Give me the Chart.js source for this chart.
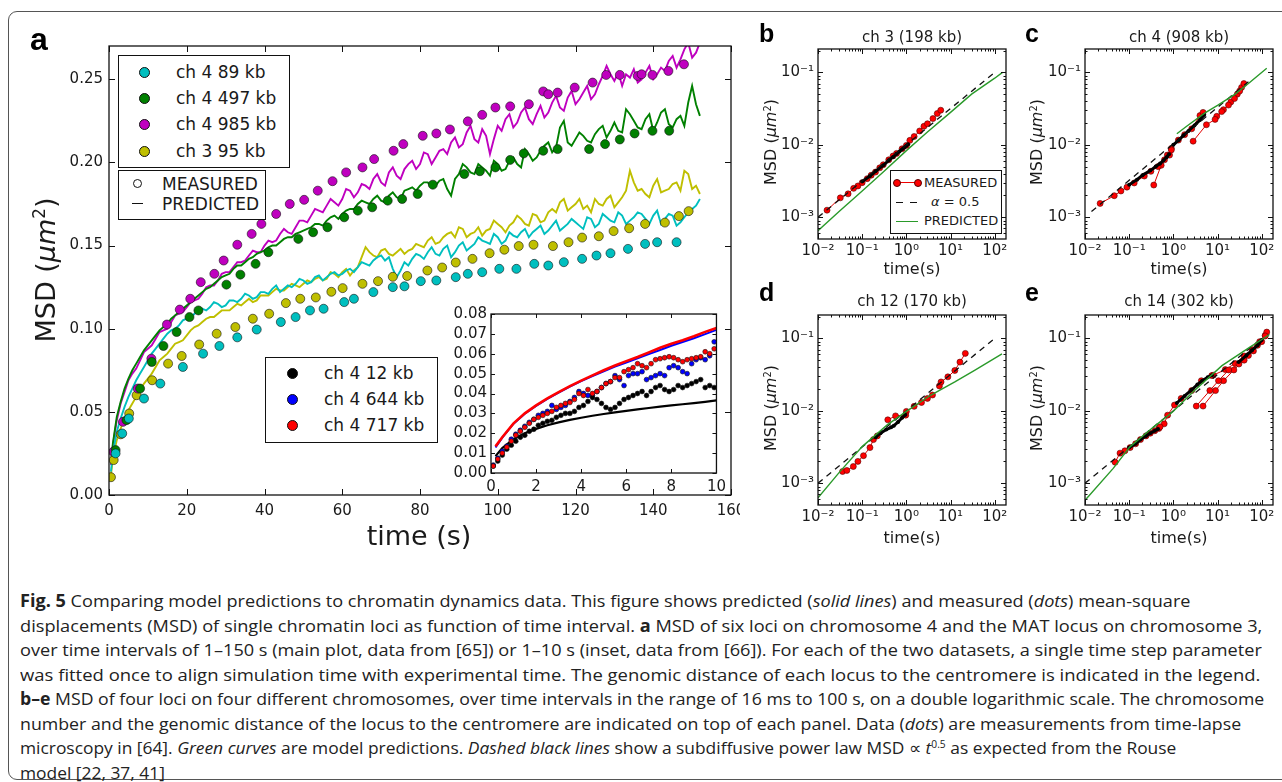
<!DOCTYPE html>
<html>
<head>
<meta charset="utf-8">
<script src="https://cdn.jsdelivr.net/npm/chart.js@4.4.0/dist/chart.umd.min.js"></script>
<style>
  body { margin: 0; width: 1282px; height: 782px; overflow: hidden; position: relative; background: #fff; font-family: 'DejaVu Sans', sans-serif; color: #1a1a1a; }
  #frame { position: absolute; left: 8px; top: 11px; width: 1300px; height: 767px; border: 1.5px solid #555; border-radius: 9px; }
  .box { position: absolute; }
  .t { position: absolute; white-space: nowrap; line-height: 1; z-index: 5; }
  .t sup { font-size: 0.62em; vertical-align: 0.55em; line-height: 0; }
  .let { position: absolute; font-family: 'Liberation Sans', Arial, sans-serif; font-weight: bold; line-height: 1; z-index: 5; color: #000; }
  .leg { position: absolute; background: #fff; border: 1.3px solid #111; z-index: 6; font-size: 17px; }
  .leg .row { position: absolute; left: 0; height: 0; }
  .leg .dot { position: absolute; width: 9px; height: 9px; border-radius: 50%; border: 0.7px solid #111; top: -5px; }
  .leg .lab { position: absolute; top: -9px; line-height: 18px; white-space: nowrap; }
  .lg2 { position: absolute; background: #fff; border: 1.2px solid #111; z-index: 6; font-size: 13px; }
  .lg2 .s { position: absolute; }
  .lg2 .lab { position: absolute; left: 33px; line-height: 14px; white-space: nowrap; }
  .cl { position: absolute; left: 20px; white-space: nowrap; transform-origin: 0 50%; font-family: 'Liberation Sans Narrow', 'Open Sans', sans-serif; font-size: 17px; line-height: 20px; color: #222; }
  .cl sup { font-size: 10px; vertical-align: 6px; line-height: 0; }
</style>
</head>
<body>
<div id="frame"></div>

<!-- panel a -->
<div class="box" style="left:0;top:0;width:740px;height:560px;overflow:hidden">
  <div style="position:relative;width:760px;height:560px"><canvas id="mainChart"></canvas></div>
</div>
<div class="box" style="left:441px;top:301px;width:290px;height:200px;z-index:3"><canvas id="insetChart"></canvas></div>

<div class="box" style="left:770px;top:36px;width:250px;height:240px"><canvas id="chartB"></canvas></div>
<div class="box" style="left:1037px;top:36px;width:250px;height:240px"><canvas id="chartC"></canvas></div>
<div class="box" style="left:770px;top:302px;width:250px;height:240px"><canvas id="chartD"></canvas></div>
<div class="box" style="left:1037px;top:302px;width:250px;height:240px"><canvas id="chartE"></canvas></div>

<div class="let" style="left:30px;top:23px;font-size:32px">a</div>
<div class="let" style="left:759px;top:21px;font-size:25px">b</div>
<div class="let" style="left:1025px;top:21px;font-size:25px">c</div>
<div class="let" style="left:759px;top:280px;font-size:25px">d</div>
<div class="let" style="left:1025px;top:280px;font-size:25px">e</div>

<div class="t" style="left:419px;top:535px;font-size:27px;transform:translate(-50%,-50%)">time (s)</div>
<div class="t" style="left:45px;top:270px;font-size:27px;transform:translate(-50%,-50%) rotate(-90deg)">MSD (<i>μm</i><sup>2</sup>)</div>

<div class="leg" style="left:118px;top:55px;width:170px;height:111px">
  <div class="row" style="top:15.6px"><span class="dot" style="left:20px;background:#00bfbf"></span><span class="lab" style="left:57px">ch 4 89 kb</span></div>
  <div class="row" style="top:41.8px"><span class="dot" style="left:20px;background:#008000"></span><span class="lab" style="left:57px">ch 4 497 kb</span></div>
  <div class="row" style="top:68.2px"><span class="dot" style="left:20px;background:#bf00bf"></span><span class="lab" style="left:57px">ch 4 985 kb</span></div>
  <div class="row" style="top:94.6px"><span class="dot" style="left:20px;background:#bfbf00"></span><span class="lab" style="left:57px">ch 3 95 kb</span></div>
</div>
<div class="leg" style="left:118px;top:170px;width:146px;height:48px">
  <div class="row" style="top:13px"><span class="dot" style="left:14px;background:#fff;border:1.3px solid #111;width:7px;height:7px"></span><span class="lab" style="left:43px">MEASURED</span></div>
  <div class="row" style="top:33px"><span style="position:absolute;left:13px;top:-1px;width:11px;border-top:1.6px solid #111"></span><span class="lab" style="left:43px">PREDICTED</span></div>
</div>
<div class="leg" style="left:265px;top:357px;width:171px;height:84px">
  <div class="row" style="top:15px"><span class="dot" style="left:21px;background:#000"></span><span class="lab" style="left:58px">ch 4 12 kb</span></div>
  <div class="row" style="top:41px"><span class="dot" style="left:21px;background:#0000ff"></span><span class="lab" style="left:58px">ch 4 644 kb</span></div>
  <div class="row" style="top:67px"><span class="dot" style="left:21px;background:#ff0000"></span><span class="lab" style="left:58px">ch 4 717 kb</span></div>
</div>

<!-- panels b-e text -->
<div class="t" style="left:912px;top:37px;font-size:15px;transform:translate(-50%,-50%)">ch 3 (198 kb)</div>
<div class="t" style="left:1179px;top:37px;font-size:15px;transform:translate(-50%,-50%)">ch 4 (908 kb)</div>
<div class="t" style="left:912px;top:301px;font-size:15px;transform:translate(-50%,-50%)">ch 12 (170 kb)</div>
<div class="t" style="left:1179px;top:301px;font-size:15px;transform:translate(-50%,-50%)">ch 14 (302 kb)</div>
<div class="t" style="left:912px;top:269px;font-size:16px;transform:translate(-50%,-50%)">time(s)</div>
<div class="t" style="left:1179px;top:269px;font-size:16px;transform:translate(-50%,-50%)">time(s)</div>
<div class="t" style="left:912px;top:538px;font-size:16px;transform:translate(-50%,-50%)">time(s)</div>
<div class="t" style="left:1179px;top:538px;font-size:16px;transform:translate(-50%,-50%)">time(s)</div>
<div class="t" style="left:771px;top:142px;font-size:16px;transform:translate(-50%,-50%) rotate(-90deg)">MSD (<i>μm</i><sup>2</sup>)</div>
<div class="t" style="left:1037px;top:142px;font-size:16px;transform:translate(-50%,-50%) rotate(-90deg)">MSD (<i>μm</i><sup>2</sup>)</div>
<div class="t" style="left:771px;top:408px;font-size:16px;transform:translate(-50%,-50%) rotate(-90deg)">MSD (<i>μm</i><sup>2</sup>)</div>
<div class="t" style="left:1037px;top:408px;font-size:16px;transform:translate(-50%,-50%) rotate(-90deg)">MSD (<i>μm</i><sup>2</sup>)</div>

<div class="lg2" style="left:890px;top:170px;width:110px;height:62px">
  <span class="s" style="left:5px;top:11px;width:22px;border-top:1px solid #e00"></span>
  <span class="s" style="left:2px;top:8px;width:6px;height:6px;border-radius:50%;background:#f00;border:0.6px solid #500"></span>
  <span class="s" style="left:23px;top:8px;width:6px;height:6px;border-radius:50%;background:#f00;border:0.6px solid #500"></span>
  <span class="lab" style="top:5px">MEASURED</span>
  <span class="s" style="left:5px;top:31px;width:7px;border-top:1.3px solid #111"></span>
  <span class="s" style="left:19px;top:31px;width:7px;border-top:1.3px solid #111"></span>
  <span class="lab" style="top:24px;left:40px"><i>α</i> = 0.5</span>
  <span class="s" style="left:5px;top:50px;width:22px;border-top:1.4px solid #2a9a2a"></span>
  <span class="lab" style="top:43px">PREDICTED</span>
</div>

<!-- caption -->
<div class="cl" data-w="1170"><b>Fig. 5</b> Comparing model predictions to chromatin dynamics data. This figure shows predicted (<i>solid lines</i>) and measured (<i>dots</i>) mean-square</div>
<div class="cl" data-w="1242">displacements (MSD) of single chromatin loci as function of time interval. <b>a</b> MSD of six loci on chromosome 4 and the MAT locus on chromosome 3,</div>
<div class="cl" data-w="1242">over time intervals of 1–150 s (main plot, data from [65]) or 1–10 s (inset, data from [66]). For each of the two datasets, a single time step parameter</div>
<div class="cl" data-w="1240">was fitted once to align simulation time with experimental time. The genomic distance of each locus to the centromere is indicated in the legend.</div>
<div class="cl" data-w="1244"><b>b–e</b> MSD of four loci on four different chromosomes, over time intervals in the range of 16 ms to 100 s, on a double logarithmic scale. The chromosome</div>
<div class="cl" data-w="1221">number and the genomic distance of the locus to the centromere are indicated on top of each panel. Data (<i>dots</i>) are measurements from time-lapse</div>
<div class="cl" data-w="1156">microscopy in [64]. <i>Green curves</i> are model predictions. <i>Dashed black lines</i> show a subdiffusive power law MSD ∝ <i>t</i><sup>0.5</sup> as expected from the Rouse</div>
<div class="cl">model [22, 37, 41]</div>

<script>
// ---------- panel a: main plot ----------
const mainXTicks = [0, 20, 40, 60, 80, 100, 120, 140, 160];
const mainYTicks = [0, 0.05, 0.10, 0.15, 0.20, 0.25];

// predicted curves at even seconds
const lineT = [0.5, 1, 2, 4, 6, 8, 10, 12, 14, 16, 18, 20, 22, 24, 26, 28, 30, 32, 34, 36, 38, 40, 42, 44, 46, 48, 50,
  52, 54, 56, 58, 60, 62, 64, 66, 68, 70, 72, 74, 76, 78, 80, 82, 84, 86, 88, 90, 92, 94, 96, 98, 100,
  102, 104, 106, 108, 110, 112, 114, 116, 118, 120, 122, 124, 126, 128, 130, 132, 134, 136, 138, 140,
  142, 144, 146, 148, 150, 152];
const magentaLine = [0.018, 0.030, 0.045, 0.062, 0.073, 0.081, 0.088, 0.094, 0.099, 0.104, 0.109, 0.113, 0.117, 0.121, 0.126,
  0.129, 0.134, 0.137, 0.140, 0.144, 0.146, 0.150, 0.152, 0.157, 0.158, 0.161, 0.165, 0.168, 0.171, 0.174, 0.176, 0.178,
  0.183, 0.182, 0.186, 0.190, 0.188, 0.194, 0.192, 0.196, 0.201, 0.199, 0.205, 0.203, 0.208, 0.212, 0.209, 0.218, 0.214,
  0.220, 0.205, 0.222, 0.226, 0.221, 0.230, 0.226, 0.229, 0.227, 0.236, 0.233, 0.239, 0.235, 0.242, 0.238, 0.247, 0.258,
  0.249, 0.246, 0.251, 0.248, 0.254, 0.250, 0.257, 0.261, 0.257, 0.268, 0.263, 0.272];
const greenLine = [0.019, 0.031, 0.047, 0.064, 0.075, 0.083, 0.090, 0.096, 0.101, 0.106, 0.110, 0.114, 0.118, 0.122, 0.125,
  0.129, 0.132, 0.136, 0.138, 0.142, 0.145, 0.147, 0.150, 0.152, 0.155, 0.157, 0.159, 0.161, 0.163, 0.165, 0.168, 0.169,
  0.172, 0.175, 0.176, 0.178, 0.177, 0.180, 0.179, 0.183, 0.185, 0.186, 0.188, 0.186, 0.190, 0.180, 0.193, 0.197, 0.193,
  0.197, 0.192, 0.199, 0.196, 0.203, 0.197, 0.205, 0.203, 0.210, 0.206, 0.221, 0.212, 0.214, 0.216, 0.212, 0.220, 0.215,
  0.224, 0.218, 0.229, 0.221, 0.226, 0.219, 0.230, 0.223, 0.226, 0.222, 0.246, 0.228];
const cyanLine = [0.014, 0.025, 0.038, 0.053, 0.064, 0.073, 0.081, 0.088, 0.094, 0.099, 0.102, 0.106, 0.109, 0.112, 0.113,
  0.115, 0.114, 0.117, 0.118, 0.120, 0.119, 0.122, 0.124, 0.122, 0.126, 0.127, 0.129, 0.128, 0.132, 0.131, 0.134, 0.133,
  0.136, 0.137, 0.139, 0.141, 0.144, 0.143, 0.131, 0.140, 0.142, 0.144, 0.146, 0.145, 0.148, 0.143, 0.150, 0.147, 0.151,
  0.153, 0.151, 0.155, 0.153, 0.156, 0.158, 0.155, 0.160, 0.157, 0.162, 0.159, 0.163, 0.164, 0.160, 0.166, 0.163, 0.167,
  0.164, 0.168, 0.165, 0.170, 0.166, 0.168, 0.163, 0.169, 0.162, 0.167, 0.172, 0.178];
const yellowLine = [0.012, 0.022, 0.033, 0.046, 0.055, 0.063, 0.070, 0.077, 0.083, 0.088, 0.092, 0.096, 0.101, 0.104, 0.107,
  0.109, 0.111, 0.113, 0.114, 0.118, 0.117, 0.120, 0.122, 0.123, 0.125, 0.126, 0.127, 0.128, 0.131, 0.130, 0.133, 0.134,
  0.132, 0.137, 0.149, 0.144, 0.147, 0.145, 0.146, 0.145, 0.148, 0.150, 0.153, 0.151, 0.155, 0.158, 0.161, 0.155, 0.158,
  0.156, 0.160, 0.163, 0.158, 0.164, 0.166, 0.162, 0.168, 0.165, 0.172, 0.176, 0.171, 0.175, 0.172, 0.170, 0.175, 0.178,
  0.173, 0.179, 0.195, 0.183, 0.181, 0.186, 0.182, 0.184, 0.188, 0.195, 0.184, 0.181];

// predicted curves at odd seconds (the jitter between the even samples)
const lineTOdd = [3, 5, 7, 9, 11, 13, 15, 17, 19, 21, 23, 25, 27, 29, 31, 33, 35, 37, 39, 41,
  43, 45, 47, 49, 51, 53, 55, 57, 59, 61, 63, 65, 67, 69, 71, 73, 75, 77, 79, 81,
  83, 85, 87, 89, 91, 93, 95, 97, 99, 101, 103, 105, 107, 109, 111, 113, 115, 117, 119, 121,
  123, 125, 127, 129, 131, 133, 135, 137, 139, 141, 143, 145, 147, 149, 151];
const magentaLineOdd = [0.055, 0.069, 0.076, 0.086, 0.090, 0.098, 0.100, 0.108, 0.110, 0.116,
  0.118, 0.125, 0.126, 0.133, 0.134, 0.140, 0.141, 0.147, 0.146, 0.153,
  0.153, 0.160, 0.157, 0.165, 0.164, 0.172, 0.170, 0.178, 0.174, 0.184,
  0.179, 0.187, 0.184, 0.193, 0.186, 0.197, 0.190, 0.199, 0.196, 0.206,
  0.199, 0.207, 0.205, 0.215, 0.211, 0.222, 0.212, 0.216, 0.214, 0.219,
  0.229, 0.224, 0.233, 0.223, 0.234, 0.230, 0.240, 0.231, 0.243, 0.238,
  0.246, 0.241, 0.252, 0.253, 0.254, 0.253, 0.256, 0.250, 0.258, 0.253,
  0.255, 0.264, 0.262, 0.272, 0.266];
const greenLineOdd = [0.056, 0.070, 0.079, 0.087, 0.093, 0.099, 0.103, 0.108, 0.112, 0.116,
  0.120, 0.124, 0.127, 0.131, 0.133, 0.138, 0.140, 0.143, 0.146, 0.149,
  0.150, 0.154, 0.155, 0.158, 0.160, 0.163, 0.162, 0.167, 0.166, 0.171,
  0.172, 0.177, 0.175, 0.180, 0.176, 0.182, 0.178, 0.184, 0.183, 0.188,
  0.185, 0.189, 0.184, 0.190, 0.199, 0.194, 0.199, 0.195, 0.201, 0.195,
  0.201, 0.199, 0.208, 0.201, 0.207, 0.212, 0.209, 0.225, 0.210, 0.218,
  0.213, 0.217, 0.222, 0.219, 0.219, 0.232, 0.225, 0.220, 0.229, 0.224,
  0.232, 0.221, 0.228, 0.236, 0.235];
const cyanLineOdd = [0.046, 0.059, 0.069, 0.077, 0.085, 0.091, 0.097, 0.100, 0.105, 0.107,
  0.111, 0.111, 0.116, 0.113, 0.117, 0.116, 0.121, 0.118, 0.122, 0.121,
  0.126, 0.124, 0.125, 0.130, 0.127, 0.131, 0.129, 0.133, 0.132, 0.135,
  0.134, 0.140, 0.138, 0.143, 0.141, 0.136, 0.135, 0.138, 0.145, 0.142,
  0.149, 0.144, 0.150, 0.146, 0.152, 0.149, 0.155, 0.152, 0.157, 0.151,
  0.158, 0.155, 0.160, 0.158, 0.162, 0.159, 0.165, 0.161, 0.166, 0.162,
  0.167, 0.161, 0.169, 0.165, 0.170, 0.163, 0.167, 0.169, 0.163, 0.171,
  0.166, 0.168, 0.164, 0.170, 0.174];
const yellowLineOdd = [0.040, 0.051, 0.059, 0.067, 0.073, 0.081, 0.085, 0.091, 0.093, 0.099,
  0.102, 0.106, 0.107, 0.111, 0.111, 0.115, 0.116, 0.116, 0.120, 0.120,
  0.124, 0.123, 0.127, 0.125, 0.129, 0.130, 0.129, 0.134, 0.131, 0.136,
  0.135, 0.143, 0.146, 0.143, 0.148, 0.144, 0.148, 0.147, 0.151, 0.149,
  0.155, 0.152, 0.157, 0.155, 0.160, 0.157, 0.161, 0.159, 0.165, 0.161,
  0.162, 0.168, 0.163, 0.169, 0.164, 0.170, 0.170, 0.178, 0.173, 0.178,
  0.174, 0.178, 0.174, 0.180, 0.176, 0.183, 0.188, 0.184, 0.179, 0.190,
  0.183, 0.187, 0.183, 0.193, 0.186];

// measured dots
const cyanDotT = [1.7, 3.4, 5.1, 9.0, 13.2, 19.0, 24.2, 28.4, 33.0, 38.0, 44.2, 48.0, 51.7, 55.2, 60.5, 63.0, 68.0, 73.0,
  76.0, 80.2, 84.2, 89.2, 92.3, 96.0, 100.4, 104.8, 109.4, 113.0, 117.0, 121.7, 125.4, 129.0, 133.5, 137.9, 141.0, 146.0];
const cyanDotV = [0.025, 0.037, 0.046, 0.058, 0.067, 0.077, 0.085, 0.0896, 0.0948, 0.0995, 0.104, 0.107, 0.111, 0.112, 0.116,
  0.118, 0.122, 0.125, 0.1255, 0.1286, 0.129, 0.131, 0.133, 0.134, 0.136, 0.136, 0.139, 0.138, 0.140, 0.142, 0.144, 0.1454,
  0.148, 0.151, 0.152, 0.152];
const greenDotT = [1.7, 4.5, 8.0, 11.0, 14.0, 17.4, 20.7, 23.0, 30.2, 33.8, 37.7, 41.0, 48.7, 52.5, 56.2, 60.5, 64.0, 67.7,
  71.7, 75.4, 79.4, 83.3, 91.4, 95.4, 99.4, 103.2, 106.7, 111.7, 115.4, 123.5, 127.6, 131.4, 135.2, 139.8, 144.1];
const greenDotV = [0.027, 0.045, 0.064, 0.080, 0.0896, 0.098, 0.107, 0.111, 0.1265, 0.1325, 0.139, 0.146, 0.154, 0.158, 0.161,
  0.167, 0.171, 0.173, 0.177, 0.178, 0.181, 0.1866, 0.193, 0.1947, 0.197, 0.2015, 0.2054, 0.207, 0.208, 0.208, 0.211, 0.2138,
  0.2174, 0.219, 0.219];
const magentaDotT = [1.1, 3.6, 7.4, 10.9, 14.9, 18.2, 20.9, 23.6, 27.1, 29.5, 33.0, 36.7, 39.2, 43.0, 46.5, 50.2, 53.7, 57.5,
  61.0, 65.2, 68.2, 73.2, 75.7, 80.7, 84.2, 87.7, 92.3, 96.0, 99.4, 103.2, 108.0, 111.7, 113.0, 115.4, 119.8, 124.4, 127.9,
  131.4, 136.0, 137.0, 139.8, 143.9, 147.9];
const magentaDotV = [0.026, 0.044, 0.064, 0.082, 0.1025, 0.1115, 0.118, 0.128, 0.133, 0.141, 0.1505, 0.157, 0.163, 0.169, 0.175,
  0.1775, 0.183, 0.1887, 0.194, 0.197, 0.202, 0.207, 0.211, 0.216, 0.2174, 0.2198, 0.2247, 0.2286, 0.233, 0.2337, 0.235,
  0.2427, 0.241, 0.242, 0.245, 0.248, 0.2526, 0.2526, 0.252, 0.253, 0.2526, 0.255, 0.259];
const yellowDotT = [0.5, 1.2, 3.0, 5.2, 7.1, 11.1, 15.2, 18.7, 23.2, 27.7, 32.5, 37.0, 41.2, 45.5, 49.2, 53.2, 57.2, 60.1,
  65.2, 69.2, 73.0, 76.7, 81.9, 85.7, 89.2, 93.5, 97.9, 101.7, 105.4, 109.2, 114.2, 118.2, 121.7, 126.0, 129.8, 133.8, 137.9,
  143.0, 146.6, 149.1];
const yellowDotV = [0.0107, 0.021, 0.0365, 0.049, 0.060, 0.069, 0.079, 0.0836, 0.0905, 0.097, 0.101, 0.106, 0.109, 0.1154,
  0.118, 0.1188, 0.1222, 0.1244, 0.127, 0.1286, 0.1312, 0.1317, 0.135, 0.1368, 0.1398, 0.142, 0.1454, 0.1475, 0.1497, 0.1505,
  0.1497, 0.152, 0.1548, 0.1556, 0.1587, 0.1604, 0.163, 0.1638, 0.1677, 0.1707];

// ---------- inset ----------
const insetXTicks = [0, 2, 4, 6, 8, 10];
const insetYTicks = [0, 0.01, 0.02, 0.03, 0.04, 0.05, 0.06, 0.07, 0.08];
const insetLineT = [0.2, 0.5, 1, 1.5, 2, 2.5, 3, 3.5, 4, 4.5, 5, 5.5, 6, 6.5, 7, 7.5, 8, 8.5, 9, 9.5, 10];
const redLine = [0.0134, 0.018, 0.025, 0.0300, 0.0340, 0.0375, 0.0407, 0.0437, 0.0465, 0.0491, 0.0517, 0.0541, 0.0563,
  0.0584, 0.0607, 0.0630, 0.0650, 0.0668, 0.0688, 0.0710, 0.0730];
const blueLine = [0.0128, 0.0178, 0.0248, 0.0298, 0.0338, 0.0373, 0.0405, 0.0435, 0.0462, 0.0487, 0.0512, 0.0535, 0.0556,
  0.0577, 0.0598, 0.0619, 0.0640, 0.0659, 0.0678, 0.0699, 0.0720];
const blackLine = [0.0085, 0.0125, 0.0170, 0.0200, 0.0222, 0.0240, 0.0255, 0.0267, 0.0278, 0.0288, 0.0297, 0.0305, 0.0313,
  0.0320, 0.0327, 0.0334, 0.0340, 0.0346, 0.0352, 0.0358, 0.0365];
const insetDotT = [0.1, 0.3, 0.5, 0.7, 0.9, 1.1, 1.3, 1.5, 1.7, 1.9, 2.1, 2.3, 2.5, 2.7, 2.9, 3.1, 3.3, 3.5, 3.7, 3.9,
  4.1, 4.3, 4.5, 4.7, 4.9, 5.1, 5.3, 5.5, 5.7, 5.9, 6.1, 6.3, 6.5, 6.7, 6.9, 7.1, 7.3, 7.5, 7.7, 7.9,
  8.1, 8.3, 8.5, 8.7, 8.9, 9.1, 9.3, 9.5, 9.7, 9.9];
const redDots = [0.0035, 0.007, 0.010, 0.013, 0.016, 0.019, 0.021, 0.023, 0.025, 0.027, 0.028, 0.029, 0.030, 0.031, 0.033,
  0.034, 0.035, 0.0355, 0.037, 0.040, 0.039, 0.042, 0.040, 0.041, 0.043, 0.045, 0.046, 0.048, 0.048, 0.051, 0.052, 0.053,
  0.055, 0.054, 0.053, 0.055, 0.057, 0.0575, 0.058, 0.0585, 0.058, 0.057, 0.056, 0.057, 0.0575, 0.058, 0.0585, 0.061, 0.060, 0.0625];
const blueDots = [0.004, 0.0075, 0.011, 0.0135, 0.017, 0.0195, 0.0215, 0.0235, 0.0255, 0.027, 0.029, 0.030, 0.031, 0.034,
  0.032, 0.033, 0.034, 0.036, 0.038, 0.041, 0.040, 0.039, 0.039, 0.041, 0.043, 0.045, 0.046, 0.049, 0.047, 0.044, 0.049,
  0.050, 0.050, 0.051, 0.047, 0.048, 0.049, 0.050, 0.049, 0.053, 0.054, 0.053, 0.051, 0.050, 0.055, 0.057, 0.058, 0.057, 0.059, 0.066];
const blackDots = [0.0035, 0.006, 0.009, 0.012, 0.014, 0.016, 0.018, 0.019, 0.021, 0.022, 0.024, 0.025, 0.026, 0.0265, 0.028,
  0.029, 0.030, 0.030, 0.031, 0.033, 0.034, 0.036, 0.038, 0.037, 0.035, 0.033, 0.032, 0.033, 0.035, 0.037, 0.038, 0.039,
  0.040, 0.041, 0.039, 0.041, 0.043, 0.044, 0.042, 0.041, 0.042, 0.044, 0.043, 0.044, 0.045, 0.046, 0.047, 0.043, 0.044, 0.043];

// ---------- panels b-e (log-log) ----------
const logXTicks = [0.01, 0.1, 1, 10, 100];
const logXLabels = ['10⁻²', '10⁻¹', '10⁰', '10¹', '10²'];
const logYTicks = [0.001, 0.01, 0.1];
const logYLabels = ['10⁻³', '10⁻²', '10⁻¹'];

const bGreenT = [0.01, 0.03, 0.1, 0.3, 1, 3, 10, 30, 100, 150];
const bGreenV = [0.00065, 0.0012, 0.0023, 0.0042, 0.0083, 0.015, 0.028, 0.050, 0.083, 0.100];
const bDashT = [0.01, 100];
const bDashV = [0.001, 0.1];
const bRedT = [0.016, 0.032, 0.048, 0.064, 0.08, 0.1, 0.13, 0.16, 0.2, 0.25, 0.3, 0.4, 0.5, 0.6, 0.8, 1.0, 1.2, 1.5, 2, 2.5, 3, 4, 5, 6];
const bRedV = [0.00125, 0.00185, 0.0021, 0.0025, 0.0027, 0.0030, 0.0034, 0.0038, 0.0042, 0.0048, 0.0053, 0.0062, 0.0070,
  0.0076, 0.0088, 0.0098, 0.0115, 0.013, 0.0155, 0.018, 0.0195, 0.023, 0.027, 0.030];
const bBlackT = [0.1, 0.15, 0.2, 0.3, 0.4, 0.5, 0.6, 0.7, 0.8, 0.9, 1.0, 1.1];
const bBlackV = [0.0031, 0.0037, 0.0043, 0.0052, 0.0061, 0.0068, 0.0075, 0.0081, 0.0087, 0.0092, 0.0097, 0.0102];

const cGreenT = [1.2, 2, 5.2, 10, 25, 50, 130];
const cGreenV = [0.0142, 0.018, 0.0275, 0.035, 0.050, 0.070, 0.114];
const cDashT = [0.014, 50];
const cDashV = [0.0012, 0.074];
const cRed1T = [0.022, 0.046, 0.065, 0.089, 0.13, 0.22, 0.31, 0.45, 0.63, 0.82, 0.9];
const cRed1V = [0.00155, 0.00198, 0.0023, 0.0026, 0.00297, 0.0037, 0.0043, 0.0050, 0.0062, 0.0072, 0.0085];
const cRed2T = [0.36, 0.53, 0.73, 0.9, 1.3, 1.8, 2.6, 4.0, 4.7];
const cRed2V = [0.00278, 0.0052, 0.0072, 0.0089, 0.0116, 0.0138, 0.0166, 0.0253, 0.028];
const cRed3T = [2.8, 5.6, 8.8, 12.4, 17.7, 24.2, 31.7, 39.4];
const cRed3V = [0.0112, 0.0189, 0.0224, 0.0287, 0.0353, 0.0435, 0.0552, 0.070];
const cRed4T = [9.6, 13.6, 20, 28, 35];
const cRed4V = [0.0247, 0.0305, 0.039, 0.050, 0.062];
const cBlack1T = [0.1, 0.15, 0.2, 0.3, 0.4, 0.5, 0.6, 0.7, 0.8];
const cBlack1V = [0.0028, 0.0033, 0.0038, 0.0044, 0.0050, 0.0055, 0.0061, 0.0067, 0.0074];
const cBlack2T = [1.0, 1.3, 1.7, 2.2, 3, 4, 5];
const cBlack2V = [0.0100, 0.0115, 0.0135, 0.0155, 0.0185, 0.022, 0.026];

const dGreenT = [0.01, 0.03, 0.1, 0.37, 1, 3.6, 12.5, 35, 146];
const dGreenV = [0.00063, 0.0014, 0.0032, 0.0064, 0.0098, 0.0165, 0.025, 0.036, 0.061];
const dDashT = [0.01, 100];
const dDashV = [0.001, 0.1];
const dRed1T = [0.036, 0.045, 0.063, 0.08, 0.107, 0.15, 0.18, 0.22];
const dRed1V = [0.00145, 0.0015, 0.0017, 0.0020, 0.0024, 0.0031, 0.0040, 0.0045];
const dBlackT = [0.2, 0.26, 0.35, 0.45, 0.52, 0.65, 0.8, 0.95];
const dBlackV = [0.0043, 0.0049, 0.0055, 0.0059, 0.0062, 0.0070, 0.0080, 0.0088];
const dRed2T = [0.38, 0.57, 0.97];
const dRed2V = [0.0075, 0.0085, 0.0087];
const dRed3T = [1.0, 1.5, 2.2, 3.0, 3.9];
const dRed3V = [0.0098, 0.0115, 0.013, 0.0148, 0.0165];
const dRed4T = [5.6, 6.1, 8.7, 12.5, 16.3, 21.6];
const dRed4V = [0.022, 0.025, 0.0294, 0.036, 0.047, 0.062];

const eGreenT = [0.0105, 0.0435, 0.105, 0.36, 0.97, 3.0, 12.6, 52, 150];
const eGreenV = [0.0006, 0.0016, 0.0032, 0.006, 0.0097, 0.019, 0.042, 0.0746, 0.113];
const eDashT = [0.01, 100];
const eDashV = [0.001, 0.1];
const eRed1T = [0.048, 0.062, 0.08, 0.105, 0.14, 0.18, 0.24, 0.3, 0.38, 0.47, 0.5];
const eRed1V = [0.00195, 0.0026, 0.0028, 0.0031, 0.0035, 0.0040, 0.0045, 0.0049, 0.0053, 0.0057, 0.0060];
const eBlack1T = [0.1, 0.14, 0.18, 0.24, 0.3, 0.38, 0.45];
const eBlack1V = [0.0031, 0.0035, 0.0040, 0.0045, 0.0049, 0.0053, 0.0056];
const eRed2T = [0.62, 0.74, 1.06, 1.5, 2.6, 4.3, 7.4];
const eRed2V = [0.0066, 0.0087, 0.012, 0.0148, 0.019, 0.026, 0.0306];
const eBlack2T = [1.2, 1.8, 2.6, 3.5, 4.5, 6, 7.5];
const eBlack2V = [0.0128, 0.016, 0.0195, 0.023, 0.026, 0.029, 0.031];
const eRed3T = [3.3, 6.7, 10.5, 17.9, 30.5, 50, 80, 120];
const eRed3V = [0.0116, 0.019, 0.026, 0.0366, 0.0442, 0.058, 0.080, 0.108];
const eRed4T = [4.7, 9.0, 13.7, 23.4, 40, 65, 100, 130];
const eRed4V = [0.0116, 0.019, 0.026, 0.0366, 0.050, 0.067, 0.090, 0.122];
const eRed5T = [8, 15, 25, 40, 60, 90, 120];
const eRed5V = [0.031, 0.037, 0.045, 0.057, 0.070, 0.090, 0.110];
const eBlack3T = [30, 45, 60, 80, 100];
const eBlack3V = [0.047, 0.058, 0.068, 0.080, 0.095];

// ---------- helpers ----------
Chart.defaults.font.family = "'DejaVu Sans', sans-serif";

// box around the plot area with inward ticks on all four sides, like matplotlib
const frameTicks = {
  id: 'frameTicks',
  beforeDatasetsDraw(chart, args, o) {
    if (!o.fill) return;
    const a = chart.chartArea;
    chart.ctx.save();
    chart.ctx.fillStyle = o.fill;
    chart.ctx.fillRect(a.left, a.top, a.width, a.height);
    chart.ctx.restore();
  },
  afterDatasetsDraw(chart, args, o) {
    const { ctx, chartArea: a } = chart;
    const sx = chart.scales.x, sy = chart.scales.y;
    const marks = (s) => {
      const majors = s.ticks.map(t => t.value);
      const out = majors.map(v => [v, o.major]);
      if (s.type === 'logarithmic') {
        for (const d of [majors[0] / 10, ...majors]) {
          for (let m = 2; m < 10; m++) {
            const v = d * m;
            if (v > s.min && v < s.max) out.push([v, o.minor]);
          }
        }
      }
      return out;
    };
    ctx.save();
    ctx.strokeStyle = '#111';
    ctx.lineWidth = 1;
    ctx.beginPath();
    for (const [v, len] of marks(sx)) {
      const px = Math.round(sx.getPixelForValue(v)) + 0.5;
      ctx.moveTo(px, a.bottom); ctx.lineTo(px, a.bottom - len);
      ctx.moveTo(px, a.top); ctx.lineTo(px, a.top + len);
    }
    for (const [v, len] of marks(sy)) {
      const py = Math.round(sy.getPixelForValue(v)) + 0.5;
      ctx.moveTo(a.left, py); ctx.lineTo(a.left + len, py);
      ctx.moveTo(a.right, py); ctx.lineTo(a.right - len, py);
    }
    ctx.stroke();
    ctx.lineWidth = 1.3;
    ctx.strokeRect(a.left, a.top, a.width, a.height);
    ctx.restore();
  }
};

const pts = (t, v) => t.map((x, i) => ({ x, y: v[i] }));
// even + odd samples of one predicted curve, in time order
const merged = (v, vOdd) => pts(lineT, v).concat(pts(lineTOdd, vOdd)).sort((p, q) => p.x - q.x);
const lineData = (data, color, w, extra) => ({
  data, showLine: true, borderColor: color, borderWidth: w, pointRadius: 0, clip: 0, order: 2, ...extra
});
const line = (t, v, color, w, extra) => lineData(pts(t, v), color, w, extra);
const dots = (t, v, color, r, extra) => ({
  data: pts(t, v), showLine: false, pointRadius: r, pointBackgroundColor: color, pointBorderColor: '#111',
  pointBorderWidth: 0.6, clip: 0, order: 1, ...extra
});
const measured = (t, v) => ({
  data: pts(t, v), showLine: true, borderColor: '#e00000', borderWidth: 1, pointRadius: 3,
  pointBackgroundColor: '#ff0000', pointBorderColor: '#550000', pointBorderWidth: 0.6, clip: 0, order: 3
});
const dense = (t, v) => ({
  data: pts(t, v), showLine: true, borderColor: '#000', borderWidth: 3, pointRadius: 2,
  pointBackgroundColor: '#000', pointBorderWidth: 0, clip: 0, order: 2
});

function makeChart(id, datasets, c) {
  const scale = (s, isX) => ({
    type: s.type, min: s.min, max: s.max, position: isX ? 'bottom' : 'left',
    grid: { display: false, drawTicks: false },
    border: { display: false },
    afterBuildTicks: sc => { sc.ticks = s.ticks.map(v => ({ value: v })); },
    afterFit: sc => { if (isX) sc.height = s.size; else sc.width = s.size; },
    ticks: {
      padding: s.pad, color: '#1a1a1a', font: { size: c.font }, maxRotation: 0, autoSkip: false,
      callback: (v, i) => s.labels[i]
    }
  });
  return new Chart(document.getElementById(id), {
    type: 'scatter',
    data: { datasets },
    options: {
      animation: false, responsive: true, maintainAspectRatio: false, events: [],
      layout: { padding: c.padding },
      plugins: { legend: { display: false }, tooltip: { enabled: false },
        frameTicks: { major: c.major, minor: c.minor, fill: c.fill } },
      scales: { x: scale(c.x, true), y: scale(c.y, false) }
    },
    plugins: [frameTicks]
  });
}

// ---------- build charts ----------
makeChart('mainChart', [
  lineData(merged(cyanLine, cyanLineOdd), '#00bfbf', 1.9),
  lineData(merged(greenLine, greenLineOdd), '#008000', 1.9),
  lineData(merged(magentaLine, magentaLineOdd), '#bf00bf', 1.9),
  lineData(merged(yellowLine, yellowLineOdd), '#bfbf00', 1.9),
  dots(cyanDotT, cyanDotV, '#00bfbf', 4.5),
  dots(greenDotT, greenDotV, '#008000', 4.5),
  dots(magentaDotT, magentaDotV, '#bf00bf', 4.5),
  dots(yellowDotT, yellowDotV, '#bfbf00', 4.5)
], {
  padding: { left: 49, top: 46, right: 29, bottom: 40 }, font: 15, major: 6, minor: 3,
  x: { type: 'linear', min: 0, max: 160, ticks: mainXTicks, labels: mainXTicks.map(String), size: 25, pad: 7 },
  y: { type: 'linear', min: 0, max: 0.27, ticks: mainYTicks, labels: mainYTicks.map(v => v.toFixed(2)), size: 60, pad: 6 }
});

makeChart('insetChart', [
  line(insetLineT, blackLine, '#000', 2.2, { order: 3 }),
  line(insetLineT, blueLine, '#0000ff', 2, { order: 3 }),
  line(insetLineT, redLine, '#ff0000', 2.6, { order: 2 }),
  dots(insetDotT, blackDots, '#000', 2.4, { order: 1 }),
  dots(insetDotT, blueDots, '#0000ff', 2.4, { order: 1 }),
  dots(insetDotT, redDots, '#ff0000', 2.4, { order: 0 })
], {
  padding: { left: 0, top: 10, right: 14, bottom: 6 }, font: 15, major: 4, minor: 2, fill: '#fff',
  x: { type: 'linear', min: 0, max: 10, ticks: insetXTicks, labels: insetXTicks.map(String), size: 22, pad: 5 },
  y: { type: 'linear', min: 0, max: 0.08, ticks: insetYTicks, labels: insetYTicks.map(v => v.toFixed(2)), size: 50, pad: 4 }
});

const logCfg = {
  padding: { left: 0, top: 10, right: 14, bottom: 13 }, font: 15, major: 5, minor: 2.5,
  x: { type: 'logarithmic', min: 0.01, max: 180, ticks: logXTicks, labels: logXLabels, size: 24, pad: 3 },
  y: { type: 'logarithmic', min: 0.0005, max: 0.21, ticks: logYTicks, labels: logYLabels, size: 48, pad: 4 }
};
const green = (t, v) => line(t, v, '#2a9a2a', 1.4, { order: 0 });
const dash = (t, v) => line(t, v, '#111', 1.3, { borderDash: [6, 5], order: 1 });

makeChart('chartB', [
  measured(bRedT, bRedV), dense(bBlackT, bBlackV), dash(bDashT, bDashV), green(bGreenT, bGreenV)
], logCfg);
makeChart('chartC', [
  measured(cRed1T, cRed1V), measured(cRed2T, cRed2V), measured(cRed3T, cRed3V), measured(cRed4T, cRed4V),
  dense(cBlack1T, cBlack1V), dense(cBlack2T, cBlack2V), dash(cDashT, cDashV), green(cGreenT, cGreenV)
], logCfg);
makeChart('chartD', [
  measured(dRed1T, dRed1V), measured(dRed2T, dRed2V), measured(dRed3T, dRed3V), measured(dRed4T, dRed4V),
  dense(dBlackT, dBlackV), dash(dDashT, dDashV), green(dGreenT, dGreenV)
], logCfg);
makeChart('chartE', [
  measured(eRed1T, eRed1V), measured(eRed2T, eRed2V), measured(eRed3T, eRed3V), measured(eRed4T, eRed4V),
  measured(eRed5T, eRed5V), dense(eBlack1T, eBlack1V), dense(eBlack2T, eBlack2V), dense(eBlack3T, eBlack3V),
  dash(eDashT, eDashV), green(eGreenT, eGreenV)
], logCfg);

// ---------- caption: fit each line to its width in the figure ----------
let capScale = 1;
document.querySelectorAll('.cl').forEach((el, i) => {
  el.style.top = (591 + i * 24.5) + 'px';
  const w = Number(el.dataset.w);
  if (w) capScale = w / el.scrollWidth;
  el.style.transform = 'scaleX(' + capScale + ')';
});
</script>
</body>
</html>
